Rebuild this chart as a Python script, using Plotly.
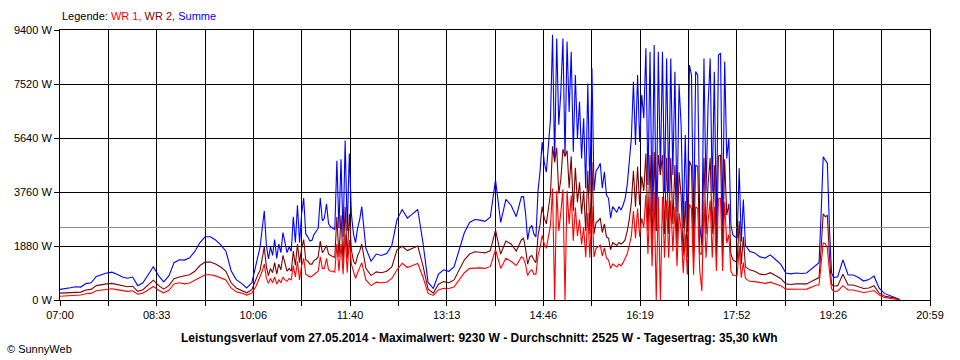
import plotly.graph_objects as go

# ---- sample times (minutes after 07:00) ----
TIME_MIN = (list(range(0, 186, 5)) + list(range(187, 296, 2)) + list(range(300, 446, 5))
            + list(range(447, 664, 2)) + list(range(665, 731, 5)) + list(range(732, 747, 2))
            + list(range(750, 811, 5)))

# ---- WR 2 (dark red), W ----
WR2 = [240, 250, 265, 280, 275, 350, 370, 500, 540, 560, 580, 540, 480, 460, 480, 300, 360, 540, 690, 510,
       380, 500, 740, 800, 830, 880, 1000, 1200, 1320, 1320, 1250, 1150, 1000, 600, 420, 340, 250, 360,
       # 10:07 - 11:55
       550, 700, 900, 1040, 1500, 1850, 1160, 850, 1100, 950, 1300, 900, 1250, 1050, 1550, 1250, 1000, 1100,
       1000, 1700, 1200, 1950, 1300, 1800, 2100, 1400, 1350, 1250, 1250, 1380, 1420, 1500, 2050, 1650, 1750,
       1900, 1600, 1550, 1500, 1480, 2900, 1500, 2950, 1300, 3250, 1450, 3000, 1750, 1350, 1250, 1550, 1700,
       1950, 1500, 1100,
       # 12:00 - 14:25
       850, 980, 950, 1000, 1150, 1750, 1870, 1720, 1800, 1880, 1200, 380, 240, 550, 640, 600, 700, 1050,
       1400, 1600, 1680, 1660, 1640, 1720, 2430, 1600, 2050, 1950, 1700, 2100,
       # 14:27 - 18:03
       2150, 1780, 1250, 1500, 1550, 1400, 1300, 2250, 2650, 3250, 2850, 2650, 3200, 3700, 5350, 4800, 5300,
       3700, 4200, 5250, 5000, 5200, 3900, 5000, 3100, 4600, 3400, 4100, 3000, 3800, 2400, 4500, 2300, 4800,
       2300, 2700, 2750, 2850, 2350, 2650, 2200, 2150, 1750, 2000, 1950, 1900, 2000, 1950, 2000, 2100, 2400,
       2800, 3400, 4500, 3250, 4650, 3300, 4300, 3800, 5100, 2400, 5050, 1900, 5150, 2400, 5050, 4350, 5050,
       2300, 4950, 2300, 4950, 2650, 4700, 1900, 4450, 3650, 1550, 3450, 1500, 4850, 4650, 1500, 4700, 4650,
       1600, 1600, 4950, 2300, 4050, 4950, 2300, 4700, 1600, 5000, 5050, 1600, 4900, 2950, 3350, 1600, 1400,
       1350, 1300, 2750, 1250, 2200, 1150, 1100,
       # 18:05 - 20:30
       1050, 1000, 900, 880, 950, 850, 750, 560, 540, 560, 550, 560, 650, 750,
       780, 1800, 3000, 2900, 2950, 1550, 560, 480,
       500, 900, 520, 520, 470, 400, 420, 500, 240, 140, 100, 70, 10]

# ---- WR 1 (red), W ----
WR1 = [130, 140, 160, 180, 175, 220, 230, 320, 350, 380, 390, 360, 320, 300, 320, 200, 240, 360, 470, 340,
       250, 340, 560, 600, 560, 590, 690, 800, 880, 880, 840, 770, 700, 420, 290, 240, 170, 240,
       # 10:07 - 11:55
       350, 480, 650, 810, 1000, 1250, 760, 580, 750, 600, 800, 550, 700, 600, 800, 700, 650, 750, 700, 1200,
       800, 1350, 700, 1200, 1450, 900, 850, 800, 830, 900, 950, 1000, 1500, 1100, 1100, 1450, 1050, 1000,
       1000, 970, 1950, 1000, 1950, 900, 2300, 950, 2100, 1250, 950, 750, 950, 1100, 1300, 1000, 700,
       # 12:00 - 14:25
       500, 620, 600, 620, 750, 1050, 1280, 1130, 1200, 1270, 800, 230, 160, 350, 410, 400, 450, 700, 950,
       1100, 1120, 1120, 1100, 1170, 1750, 1100, 1450, 1350, 1200, 1500,
       # 14:27 - 18:03
       1450, 1220, 850, 1000, 1050, 900, 900, 1550, 1850, 2250, 1950, 1800, 2200, 2600, 3880, 0, 3800, 2400,
       3050, 3850, 0, 3800, 2650, 3640, 2060, 3230, 2230, 2800, 1930, 2525, 1490, 3040, 1470, 3265, 1500,
       1800, 1850, 1910, 1540, 1816, 1455, 1390, 1100, 1250, 1200, 1150, 1250, 1183, 1300, 1440, 1600, 1900,
       2230, 3100, 2150, 3180, 2200, 2840, 2530, 3660, 1600, 3590, 1175, 3730, 0, 3590, 0, 3590, 1470, 3460,
       1470, 3460, 1700, 3250, 1175, 3030, 2440, 945, 2290, 880, 3330, 3180, 880, 3250, 3180, 1010, 315,
       3460, 1470, 2740, 3460, 1470, 3250, 1010, 3530, 3540, 1010, 3400, 1980, 2280, 1010, 860, 850, 850,
       1840, 780, 1300, 750, 700,
       # 18:05 - 20:30
       650, 640, 600, 580, 620, 560, 500, 380, 370, 380, 375, 380, 450, 520,
       520, 1200, 1990, 1970, 1810, 1000, 400, 300,
       310, 500, 350, 350, 310, 260, 290, 330, 170, 90, 60, 40, 5]

# Summe = WR 1 + WR 2
SUMME = [a + b for a, b in zip(WR1, WR2)]

AVERAGE_W = 2525
X_LABELS = ["07:00", "08:33", "10:06", "11:40", "13:13", "14:46", "16:19", "17:52", "19:26", "20:59"]
X_SPAN_MIN = 839           # 07:00 .. 20:59
Y_TICKS = [0, 1880, 3760, 5640, 7520, 9400]

TITLE = ("Leistungsverlauf vom 27.05.2014 - Maximalwert: 9230 W - "
         "Durchschnitt: 2525 W - Tagesertrag: 35,30 kWh")

FONT = "Liberation Sans, Arial, sans-serif"

fig = go.Figure()
fig.add_trace(go.Scatter(x=[0, X_SPAN_MIN], y=[AVERAGE_W, AVERAGE_W], mode="lines",
                         line=dict(color="#8c8c8c", width=1), hoverinfo="skip", showlegend=False))
fig.add_trace(go.Scatter(x=TIME_MIN, y=SUMME, mode="lines", name="Summe",
                         line=dict(color="#0000ff", width=1.1)))
fig.add_trace(go.Scatter(x=TIME_MIN, y=WR2, mode="lines", name="WR 2",
                         line=dict(color="#800000", width=1.1)))
fig.add_trace(go.Scatter(x=TIME_MIN, y=WR1, mode="lines", name="WR 1",
                         line=dict(color="#ff0000", width=1.1)))

n_grid = (len(X_LABELS) - 1) * 2
grid_vals = [X_SPAN_MIN * k / n_grid for k in range(n_grid + 1)]
grid_text = [X_LABELS[k // 2] if k % 2 == 0 else "" for k in range(n_grid + 1)]

fig.update_layout(
    width=960, height=360,
    margin=dict(l=60, r=30, t=30, b=60),
    paper_bgcolor="white", plot_bgcolor="white",
    showlegend=False,
    font=dict(family=FONT, size=11, color="black"),
    xaxis=dict(range=[0, X_SPAN_MIN], tickmode="array", tickvals=grid_vals, ticktext=grid_text,
               showgrid=True, gridcolor="black", gridwidth=1,
               showline=True, linecolor="black", linewidth=1, mirror=True,
               ticks="outside", ticklen=5, tickcolor="black", zeroline=False,
               tickfont=dict(family=FONT, size=11, color="black")),
    yaxis=dict(range=[0, 9400], tickmode="array", tickvals=Y_TICKS,
               ticktext=[f"{v} W" for v in Y_TICKS],
               showgrid=True, gridcolor="black", gridwidth=1,
               showline=True, linecolor="black", linewidth=1, mirror=True,
               ticks="outside", ticklen=5, tickcolor="black", zeroline=False,
               tickfont=dict(family=FONT, size=11, color="black")),
    annotations=[
        dict(xref="paper", yref="paper", x=0, y=1 + 14 / 270, xanchor="left", yanchor="middle",
             showarrow=False, font=dict(family=FONT, size=11, color="black"),
             text='Legende: <span style="color:#ff0000">WR 1,</span> '
                  '<span style="color:#800000">WR 2,</span> '
                  '<span style="color:#0000ff">Summe</span>'),
        dict(xref="paper", yref="paper", x=(479.5 - 60) / 870, y=-38 / 270, xanchor="center",
             yanchor="middle", showarrow=False,
             font=dict(family=FONT, size=12, color="black"), text="<b>" + TITLE + "</b>"),
        dict(xref="paper", yref="paper", x=-55 / 870, y=-49 / 270, xanchor="left", yanchor="middle",
             showarrow=False, font=dict(family=FONT, size=11, color="black"),
             text="© SunnyWeb"),
    ],
)

fig.write_html("out.html", config={"displayModeBar": False},
               post_script="document.body.style.margin='0';document.body.style.padding='0';")
